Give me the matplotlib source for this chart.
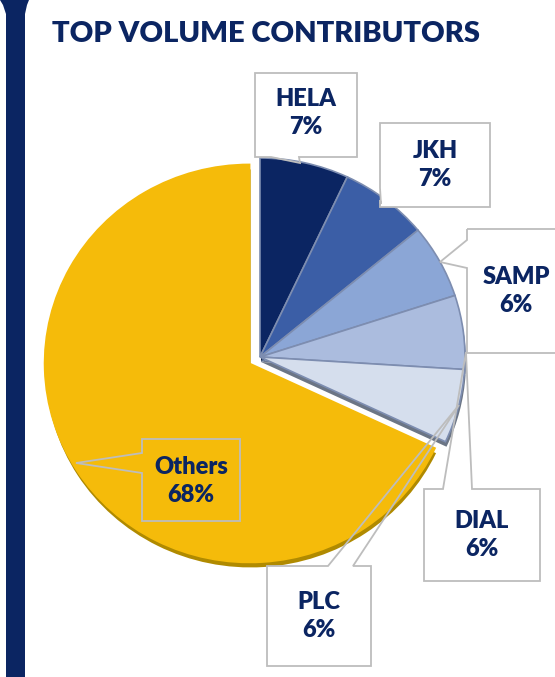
import matplotlib
matplotlib.use("Agg")
import matplotlib.pyplot as plt
from matplotlib.patches import Polygon, Rectangle
from matplotlib.transforms import Affine2D

# data
names = ["HELA", "JKH", "SAMP", "DIAL", "PLC", "Others"]
values = [7, 7, 6, 6, 6, 68]
colors = ["#0b2562", "#3b5ea6", "#8ba6d6", "#abbcde", "#d5deed", "#f5bb0a"]
rim_colors = ["#061638", "#2a4274", "#5f7396", "#6c7a94", "#6b7585", "#b08a00"]
title = "TOP VOLUME CONTRIBUTORS"

W, H = 555, 677
navy = "#0b2562"
plt.rcParams["font.family"] = ["Lato", "DejaVu Sans"]

fig = plt.figure(figsize=(W / 100, H / 100), dpi=100)
ax = fig.add_axes([0, 0, 1, 1])

cx, cy, r = 260, H - 357, 199
explode = [0, 0, 0, 0, 0, 12]   # pie explode is in data units here (pixels)
# slightly wider than tall, like the tilted 3d pie
stretch = Affine2D().translate(-cx, -cy).scale(1.03, 1).translate(cx, cy) + ax.transData

# depth / rim underneath
under, _ = ax.pie(values, colors=rim_colors, startangle=90, counterclock=False,
                  center=(cx + 1, cy - 5), radius=r, explode=explode,
                  wedgeprops=dict(linewidth=0))
for w in under:
    w.set_zorder(1)
    w.set_transform(stretch)

wedges, _ = ax.pie(values, colors=colors, startangle=90, counterclock=False,
                   center=(cx, cy), radius=r, explode=explode,
                   wedgeprops=dict(edgecolor="#7d8db0", linewidth=1.2))
for w in wedges:
    w.set_zorder(2)
    w.set_transform(stretch)
wedges[-1].set_edgecolor("#f5bb0a")

ax.set_xlim(0, W)
ax.set_ylim(0, H)
ax.axis("off")


def callout(box, side, base, tip, fill="white"):
    x0, y0, x1, y1 = box
    b0, b1 = base
    if side == "top":
        pts = [(x0, y0), (b0, y0), tip, (b1, y0), (x1, y0), (x1, y1), (x0, y1)]
    elif side == "bottom":
        pts = [(x0, y0), (x1, y0), (x1, y1), (b1, y1), tip, (b0, y1), (x0, y1)]
    else:
        pts = [(x0, y0), (x1, y0), (x1, y1), (x0, y1), (x0, b1), tip, (x0, b0)]
    pts = [(px, H - py) for px, py in pts]
    if fill != "none":
        ax.add_patch(Rectangle((x0, H - y1), x1 - x0, y1 - y0, facecolor=fill,
                               edgecolor="none", zorder=4))
    ax.add_patch(Polygon(pts, closed=True, facecolor="none", edgecolor="#bdbdbd",
                         linewidth=1.3, zorder=5))


# label boxes: box, pointer side, pointer base, tip, text x, text y
boxes = [
    ((255, 73, 357, 157), "bottom", (271, 299), (300, 163), 306, 113),
    ((380, 123, 490, 207), "left", (188, 200), (381, 204), 435, 165),
    ((467, 229, 575, 353), "left", (240, 268), (440, 262), 516, 291),
    ((424, 489, 540, 581), "top", (443, 472), (466, 352), 482, 535),
    ((267, 566, 371, 666), "top", (328, 353), (459, 405), 319, 616),
    ((142, 439, 240, 521), "left", (453, 473), (76, 463), 191, 481),
]

for name, v, (box, side, base, tip, tx, ty) in zip(names, values, boxes):
    fill = "none" if name == "Others" else "white"
    callout(box, side, base, tip, fill)
    ax.text(tx, H - ty, f"{name}\n{v}%", ha="center", va="center",
            fontsize=17, fontweight="heavy", color=navy, linespacing=1.35, zorder=6)

# left navy bar with flared top
bar = [(6, 0), (25, 0), (25, H - 14), (27, H - 5), (29, H), (0, H), (3, H - 5), (6, H - 14)]
ax.add_patch(Polygon(bar, closed=True, facecolor=navy, edgecolor="none", zorder=7))

ax.text(52, H - 34, title, ha="left", va="center", fontsize=21,
        fontweight="heavy", color=navy, zorder=7)

fig.savefig("out.png", dpi=100, facecolor="white")
